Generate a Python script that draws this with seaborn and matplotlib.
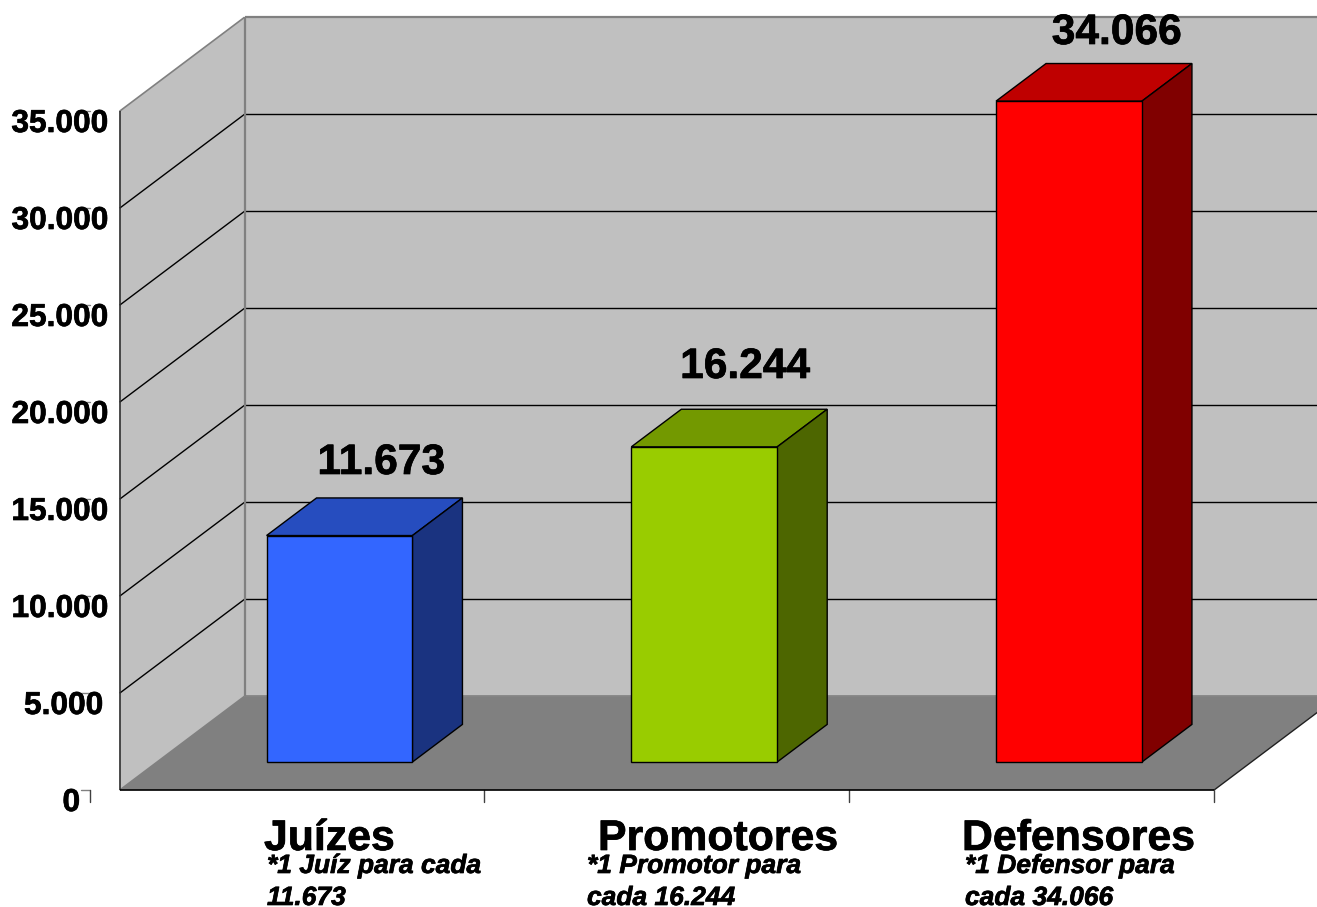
import numpy as np
import pandas as pd
import matplotlib
matplotlib.use("Agg")
import matplotlib.pyplot as plt
import matplotlib.patheffects as pe
from matplotlib.colors import to_rgb
from matplotlib.patches import Polygon
import seaborn as sns

# --- data ---
categories = ["Juízes", "Promotores", "Defensores"]
values = [11673, 16244, 34066]
value_labels = ["11.673", "16.244", "34.066"]
notes = ["*1 Juíz para cada\n11.673", "*1 Promotor para\ncada 16.244", "*1 Defensor para\ncada 34.066"]
tick_values = [0, 5000, 10000, 15000, 20000, 25000, 30000, 35000]
tick_labels = ["0", "5.000", "10.000", "15.000", "20.000", "25.000", "30.000", "35.000"]
bar_colors = ["#3366FF", "#99CC00", "#FF0000"]

# --- layout (pixels of the 1317x907 picture) ---
W, H = 1317, 907
CAT_PX = 364.75      # width of one category
VAL_PX = 97 / 5000   # pixels per unit of value
BAR_X0 = 339.5       # centre of first bar
BAR_Y0 = 762         # baseline of bars
DEPTH_X = 125 / CAT_PX
DEPTH_Y = 94 / VAL_PX
BAR_DEPTH = 0.3      # bars stand from depth 0.3 to 0.7
BAR_WIDTH = 0.4

label_px = [(381, 474), (745, 378), (1116.5, 44)]
cat_px = [(264, 850), (598, 850), (962, 850)]
note_px = [(267, 873), (587, 873), (965, 873)]
tick_right_px = [80, 103, 108, 108, 108, 108, 108, 108]

sns.set_theme(style="white")
plt.rcParams["font.family"] = ["Liberation Sans", "DejaVu Sans"]

fig = plt.figure(figsize=(W / 100, H / 100), dpi=100)
ax = fig.add_axes([0, 0, 1, 1])

df = pd.DataFrame({"cat": categories, "val": values})
sns.barplot(data=df, x="cat", y="val", hue="cat", palette=bar_colors, order=categories,
            width=BAR_WIDTH, saturation=1, edgecolor="black", linewidth=1, legend=False,
            zorder=3, ax=ax)


def project(x, v, depth):
    # axes coordinates are those of the bars' front plane
    return (x + (depth - BAR_DEPTH) * DEPTH_X, v + (depth - BAR_DEPTH) * DEPTH_Y)


def face(points, color, edge, z, lw=1.0):
    ax.add_patch(Polygon([project(*p) for p in points], closed=True, facecolor=color,
                         edgecolor=edge, linewidth=lw, zorder=z))


def seg(a, b, color="black", lw=1.0, z=1.0):
    pa, pb = project(*a), project(*b)
    ax.plot([pa[0], pb[0]], [pa[1], pb[1]], color=color, lw=lw, zorder=z,
            solid_capstyle="butt")


# --- walls and floor ---
x_left, x_right = -0.5, 2.5
x_far = 3.5  # runs off the picture
top = tick_values[-1]
gray = "#808080"

face([(x_left, 0, 1), (x_far, 0, 1), (x_far, top, 1), (x_left, top, 1)], "#C0C0C0", "none", 0)
face([(x_left, 0, 0), (x_left, 0, 1), (x_left, top, 1), (x_left, top, 0)], "#C0C0C0", "none", 0)
face([(x_left, 0, 0), (x_right, 0, 0), (x_right, 0, 1), (x_far, 0, 1), (x_left, 0, 1)], gray, "none", 0.5)

for v in tick_values[1:-1]:
    seg((x_left, v, 0), (x_left, v, 1), z=1)
    seg((x_left, v, 1), (x_far, v, 1), z=1)

seg((x_left, 0, 1), (x_far, 0, 1), gray, 1.2)
seg((x_left, top, 1), (x_far, top, 1), gray, 1.6)
seg((x_left, 0, 1), (x_left, top, 1), gray, 1.6)
seg((x_left, top, 0), (x_left, top, 1), gray, 1.2)
seg((x_left, 0, 0), (x_left, 0, 1), gray, 1.2)
seg((x_left, 0, 0), (x_left, top, 0), "#303030", 1.2)
seg((x_left, 0, 0), (x_right, 0, 0), "black", 1.2, 2)
seg((x_right, 0, 0), (x_right, 0, 1), "#202020", 1.0)

# --- depth faces of the bars ---
for i, v in enumerate(values):
    x0, x1 = i - BAR_WIDTH / 2, i + BAR_WIDTH / 2
    c = np.array(to_rgb(bar_colors[i]))
    face([(x0, v, 0.3), (x1, v, 0.3), (x1, v, 0.7), (x0, v, 0.7)], c * 0.75, "black", 2.5)
    face([(x1, 0, 0.3), (x1, 0, 0.7), (x1, v, 0.7), (x1, v, 0.3)], c * 0.5, "black", 2.5)

# --- tick marks ---
to_x = lambda px: (px - BAR_X0) / CAT_PX
to_y = lambda px: (BAR_Y0 - px) / VAL_PX
for i in [1, 2, 3]:
    x = x_left + i
    xp = project(x, 0, 0)[0]
    ax.plot([xp, xp], [project(x, 0, 0)[1], to_y(802)], color="#404040", lw=1, zorder=1)
for v in tick_values:
    y = project(x_left, v, 0)[1]
    ax.plot([to_x(81), to_x(90)], [y, y], color=gray, lw=1, zorder=1)
ax.plot([to_x(90), to_x(90)], [to_y(790), to_y(802)], color="#404040", lw=1, zorder=1)

# --- texts ---
heavy = [pe.withStroke(linewidth=0.5, foreground="black")]

for lab, v, right in zip(tick_labels, tick_values, tick_right_px):
    base = 790 - v * VAL_PX + 21
    ax.text(to_x(right), to_y(base), lab, ha="right", va="baseline", path_effects=heavy,
            fontsize=22.8, fontweight="bold", color="black", zorder=5)

for lab, (px, py) in zip(value_labels, label_px):
    ax.text(to_x(px), to_y(py), lab, ha="center", va="baseline", path_effects=heavy,
            fontsize=30.6, fontweight="bold", color="black", zorder=5)

for lab, (px, py) in zip(categories, cat_px):
    ax.text(to_x(px), to_y(py), lab, ha="left", va="baseline", path_effects=heavy,
            fontsize=30.8, fontweight="bold", color="black", zorder=5)

for lab, (px, py) in zip(notes, note_px):
    line1, line2 = lab.split("\n")
    ax.text(to_x(px), to_y(py), line1, ha="left", va="baseline", fontsize=19,
            fontweight="bold", fontstyle="italic", color="black", zorder=6, path_effects=heavy)
    ax.text(to_x(px), to_y(py + 32), line2, ha="left", va="baseline", fontsize=19,
            fontweight="bold", fontstyle="italic", color="black", zorder=6, path_effects=heavy)

ax.set_xlim(to_x(0), to_x(W))
ax.set_ylim(to_y(H), to_y(0))
ax.axis("off")

fig.savefig("out.png", dpi=100, facecolor="white")
